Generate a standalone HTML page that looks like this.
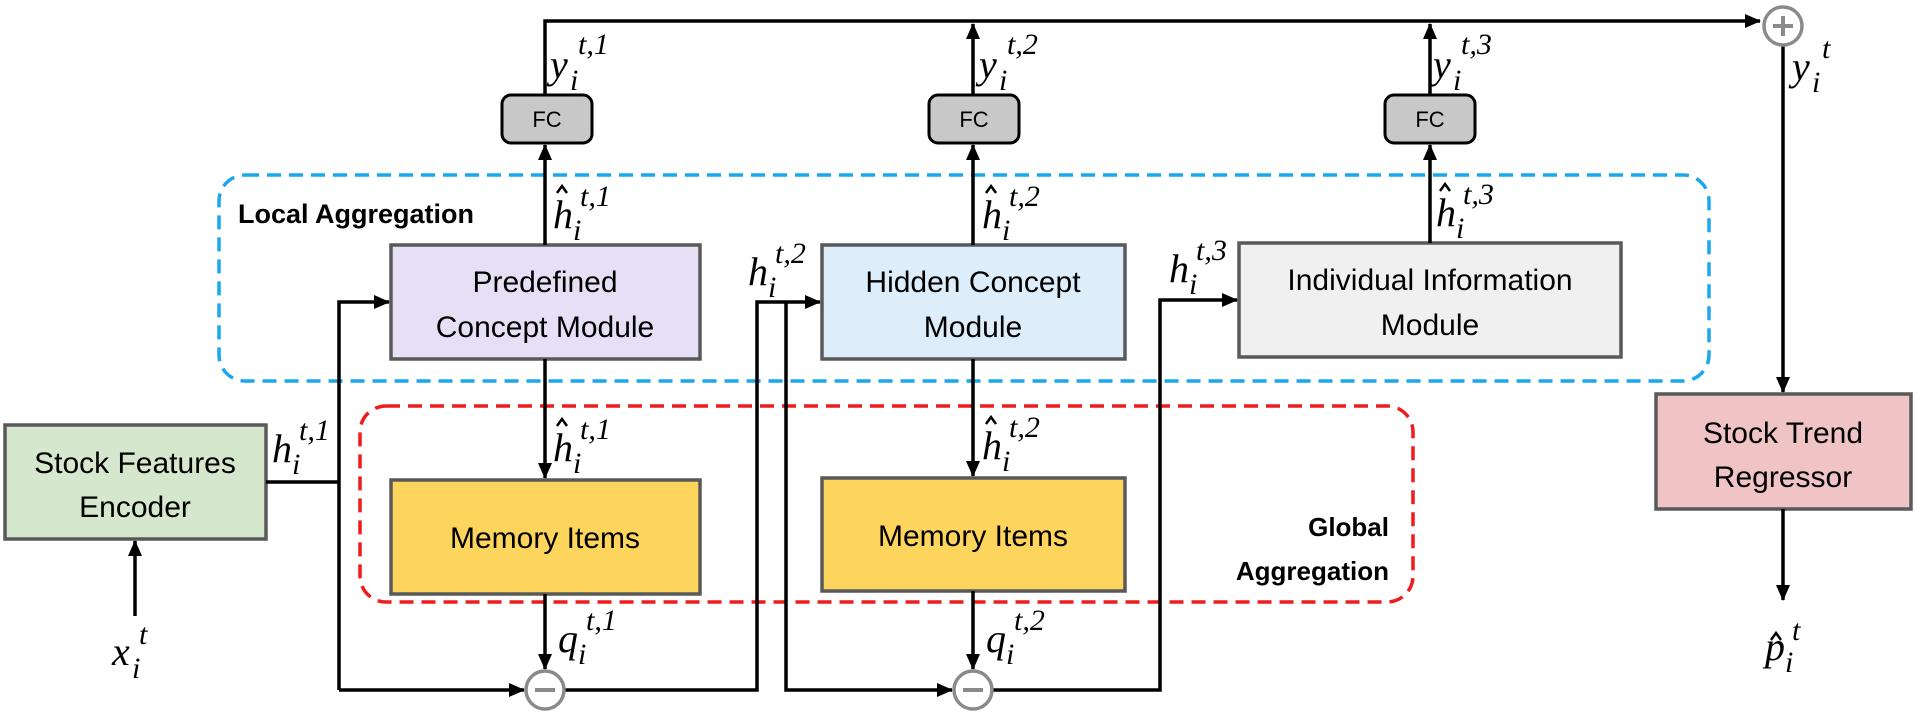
<!DOCTYPE html>
<html><head><meta charset="utf-8"><style>
html,body{margin:0;padding:0;background:#fff;}
svg{display:block;}
.t{font-family:"Liberation Sans",sans-serif;fill:#000;}
.m{font-family:"Liberation Serif",serif;font-style:italic;fill:#000;}
</style></head><body>
<svg width="1916" height="714" viewBox="0 0 1916 714" xmlns="http://www.w3.org/2000/svg">
<defs>
<marker id="b" markerWidth="16" markerHeight="14" refX="15" refY="7" orient="auto" markerUnits="userSpaceOnUse" viewBox="0 0 16 14">
<path d="M0,0 L16,7 L0,14 z" fill="#000"/></marker>
</defs>
<rect x="219" y="175" width="1490" height="206" rx="26" fill="none" stroke="#1aa7ec" stroke-width="3.5" stroke-dasharray="14,8"/>
<rect x="360" y="406" width="1053" height="196" rx="26" fill="none" stroke="#ee1c1c" stroke-width="3.5" stroke-dasharray="14,8"/>
<text class="t" x="238" y="223" font-size="27" font-weight="bold">Local Aggregation</text>
<text class="t" x="1389" y="536" font-size="26" font-weight="bold" text-anchor="end">Global</text>
<text class="t" x="1389" y="580" font-size="26" font-weight="bold" text-anchor="end">Aggregation</text>

<g stroke="#595959" stroke-width="3.5">
<rect x="5" y="425" width="261" height="114" fill="#d5e7cc"/>
<rect x="391" y="245" width="309" height="114" fill="#e6dff5"/>
<rect x="822" y="245" width="303" height="114" fill="#ddeefa"/>
<rect x="1239" y="243" width="382" height="114" fill="#f0f0f0"/>
<rect x="391" y="480" width="309" height="114" fill="#fdd45c"/>
<rect x="822" y="478" width="303" height="113" fill="#fdd45c"/>
<rect x="1656" y="394" width="255" height="115" fill="#f0c4c4"/>
</g>
<g stroke="#000" stroke-width="3" fill="#c8c8c8">
<rect x="502" y="95" width="90" height="48" rx="9"/>
<rect x="929" y="95" width="90" height="48" rx="9"/>
<rect x="1385" y="95" width="90" height="48" rx="9"/>
</g>
<g class="t" font-size="22" text-anchor="middle">
<text x="547" y="127">FC</text><text x="974" y="127">FC</text><text x="1430" y="127">FC</text>
</g>
<g class="t" font-size="30" text-anchor="middle">
<text x="135" y="473">Stock Features</text><text x="135" y="517">Encoder</text>
<text x="545" y="292">Predefined</text><text x="545" y="337">Concept Module</text>
<text x="973" y="292">Hidden Concept</text><text x="973" y="337">Module</text>
<text x="1430" y="290">Individual Information</text><text x="1430" y="335">Module</text>
<text x="545" y="548">Memory Items</text><text x="973" y="546">Memory Items</text>
<text x="1783" y="443">Stock Trend</text><text x="1783" y="487">Regressor</text>
</g>

<g stroke="#000" stroke-width="3.5" fill="none">
<path d="M545,95 V21 H1760" marker-end="url(#b)"/>
<path d="M973,95 V24" marker-end="url(#b)"/>
<path d="M1430,95 V24" marker-end="url(#b)"/>
<path d="M545,245 V145" marker-end="url(#b)"/>
<path d="M973,245 V145" marker-end="url(#b)"/>
<path d="M1430,243 V145" marker-end="url(#b)"/>
<path d="M545,359 V478" marker-end="url(#b)"/>
<path d="M973,359 V476" marker-end="url(#b)"/>
<path d="M545,594 V669" marker-end="url(#b)"/>
<path d="M973,591 V669" marker-end="url(#b)"/>
<path d="M135,616 V541" marker-end="url(#b)"/>
<path d="M266,482 H339"/>
<path d="M339,690 V302 H389" marker-end="url(#b)"/>
<path d="M339,690 H524" marker-end="url(#b)"/>
<path d="M565,690 H757 V302 H820" marker-end="url(#b)"/>
<path d="M786,302 V690 H952" marker-end="url(#b)"/>
<path d="M993,690 H1160 V300 H1237" marker-end="url(#b)"/>
<path d="M1783,46 V392" marker-end="url(#b)"/>
<path d="M1783,509 V600" marker-end="url(#b)"/>
</g>
<g stroke="#8a8a8a" stroke-width="3.5" fill="#fff">
<circle cx="545" cy="690" r="19"/><circle cx="973" cy="690" r="19"/><circle cx="1783" cy="26" r="19"/>
</g>
<g stroke="#8a8a8a" stroke-width="4">
<path d="M535,690 H555 M963,690 H983 M1773,26 H1793 M1783,16 V36"/>
</g>

<g class="m" font-size="40">
<text x="550" y="78">y</text><text x="570" y="90" font-size="30">i</text><text x="578" y="54" font-size="30">t,1</text>
<text x="979" y="78">y</text><text x="999" y="90" font-size="30">i</text><text x="1007" y="54" font-size="30">t,2</text>
<text x="1433" y="78">y</text><text x="1453" y="90" font-size="30">i</text><text x="1461" y="54" font-size="30">t,3</text>
<text x="1792" y="80">y</text><text x="1812" y="92" font-size="30">i</text><text x="1822" y="58" font-size="30">t</text>

<text x="553" y="228">h</text><text x="573" y="240" font-size="30">i</text><text x="580" y="206" font-size="30">t,1</text>
<text x="982" y="228">h</text><text x="1002" y="240" font-size="30">i</text><text x="1009" y="206" font-size="30">t,2</text>
<text x="1436" y="226">h</text><text x="1456" y="238" font-size="30">i</text><text x="1463" y="204" font-size="30">t,3</text>

<text x="553" y="461">h</text><text x="573" y="473" font-size="30">i</text><text x="580" y="439" font-size="30">t,1</text>
<text x="982" y="459">h</text><text x="1002" y="471" font-size="30">i</text><text x="1009" y="437" font-size="30">t,2</text>

<text x="272" y="462">h</text><text x="292" y="474" font-size="30">i</text><text x="299" y="440" font-size="30">t,1</text>
<text x="748" y="285">h</text><text x="768" y="297" font-size="30">i</text><text x="775" y="263" font-size="30">t,2</text>
<text x="1169" y="282">h</text><text x="1189" y="294" font-size="30">i</text><text x="1196" y="260" font-size="30">t,3</text>

<text x="558" y="652">q</text><text x="578" y="664" font-size="30">i</text><text x="586" y="630" font-size="30">t,1</text>
<text x="986" y="652">q</text><text x="1006" y="664" font-size="30">i</text><text x="1014" y="630" font-size="30">t,2</text>

<text x="112" y="665">x</text><text x="132" y="678" font-size="30">i</text><text x="139" y="644" font-size="30">t</text>
<text x="1765" y="660">p</text><text x="1785" y="672" font-size="30">i</text><text x="1792" y="640" font-size="30">t</text>
</g>
<g stroke="#000" stroke-width="2.5" fill="none">
<path d="M557,193 L562,186 L567,193"/>
<path d="M986,193 L991,186 L996,193"/>
<path d="M1440,191 L1445,184 L1450,191"/>
<path d="M557,426 L562,419 L567,426"/>
<path d="M986,424 L991,417 L996,424"/>
<path d="M1771,640 L1776,633 L1781,640"/>
</g>
</svg>
</body></html>
